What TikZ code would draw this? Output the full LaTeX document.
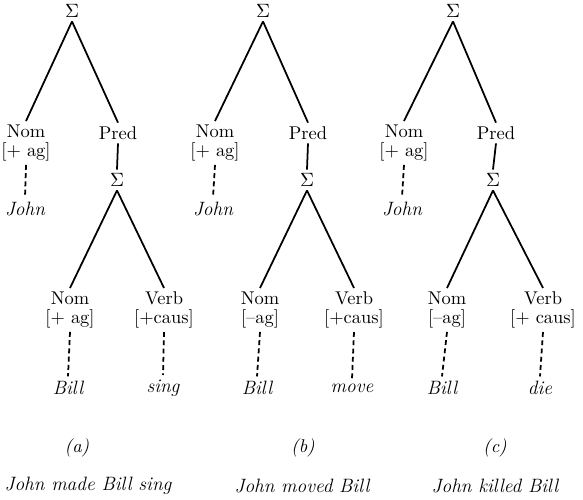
\documentclass[tikz,border=0pt]{standalone}
\usetikzlibrary{positioning}
\tikzset{
  br/.style   = {line width=1pt},
  dbr/.style  = {line width=1pt, dash pattern=on 2.8pt off 1.9pt},
  sig/.style  = {inner sep=2pt, font=\fontsize{10.5}{11}\selectfont},
  cat/.style  = {inner sep=2pt, align=center, font=\fontsize{10.5}{10.8}\selectfont},
  lex/.style  = {inner sep=2.5pt, font=\fontsize{11}{12}\selectfont\itshape},
  tag/.style  = {inner sep=1pt, font=\fontsize{10.5}{12}\selectfont\itshape},
  sent/.style = {inner sep=1pt, font=\fontsize{11}{13}\selectfont\itshape},
}
\begin{document}
\begin{tikzpicture}[x=0.02cm, y=-0.02cm]
  \useasboundingbox (0,0) rectangle (583,500);
  % (a)
  \node[sig] (aS) at (72,11) {$\Sigma$};
  \node[cat] (aNom) at (26,143) {Nom\\\relax[+ ag]};
  \node[cat] (aPred) at (118,133) {Pred};
  \node[lex] (aJohn) at (25,209) {John};
  \node[sig] (aS2) at (117,180) {$\Sigma$};
  \node[cat] (aNom2) at (70,310) {Nom\\\relax[+ ag]};
  \node[cat] (aVerb) at (164,310) {Verb\\\relax[+caus]};
  \node[lex] (aBill) at (68,388) {Bill};
  \node[lex] (aSing) at (163,388) {sing};
  \draw[br] (aS.south) -- (aNom.north);
  \draw[br] (aS.south) -- (aPred.north);
  \draw[br] (aPred.south) -- (aS2.north);
  \draw[br] (aS2.south) -- (aNom2.north);
  \draw[br] (aS2.south) -- (aVerb.north);
  \draw[dbr] (aNom.south) -- (aJohn.north);
  \draw[dbr] (aNom2.south) -- (aBill.north);
  \draw[dbr] (aVerb.south) -- (aSing.north);
  % (b)
  \node[sig] (bS) at (263,11) {$\Sigma$};
  \node[cat] (bNom) at (215,143) {Nom\\\relax[+ ag]};
  \node[cat] (bPred) at (308,133) {Pred};
  \node[lex] (bJohn) at (213,209) {John};
  \node[sig] (bS2) at (307,180) {$\Sigma$};
  \node[cat] (bNom2) at (260,310) {Nom\\\relax[--ag]};
  \node[cat] (bVerb) at (354,310) {Verb\\\relax[+caus]};
  \node[lex] (bBill) at (257,388) {Bill};
  \node[lex] (bMove) at (352,388) {move};
  \draw[br] (bS.south) -- (bNom.north);
  \draw[br] (bS.south) -- (bPred.north);
  \draw[br] (bPred.south) -- (bS2.north);
  \draw[br] (bS2.south) -- (bNom2.north);
  \draw[br] (bS2.south) -- (bVerb.north);
  \draw[dbr] (bNom.south) -- (bJohn.north);
  \draw[dbr] (bNom2.south) -- (bBill.north);
  \draw[dbr] (bVerb.south) -- (bMove.north);
  % (c)
  \node[sig] (cS) at (453,11) {$\Sigma$};
  \node[cat] (cNom) at (404,143) {Nom\\\relax[+ ag]};
  \node[cat] (cPred) at (496,133) {Pred};
  \node[lex] (cJohn) at (402,209) {John};
  \node[sig] (cS2) at (493,180) {$\Sigma$};
  \node[cat] (cNom2) at (447,310) {Nom\\\relax[--ag]};
  \node[cat] (cVerb) at (543,310) {Verb\\\relax[+ caus]};
  \node[lex] (cBill) at (442,388) {Bill};
  \node[lex] (cDie) at (540,388) {die};
  \draw[br] (cS.south) -- (cNom.north);
  \draw[br] (cS.south) -- (cPred.north);
  \draw[br] (cPred.south) -- (cS2.north);
  \draw[br] (cS2.south) -- (cNom2.north);
  \draw[br] (cS2.south) -- (cVerb.north);
  \draw[dbr] (cNom.south) -- (cJohn.north);
  \draw[dbr] (cNom2.south) -- (cBill.north);
  \draw[dbr] (cVerb.south) -- (cDie.north);
  % labels
  \node[tag] (aTag) at (77,448) {(a)};
  \node[tag] (bTag) at (303,448) {(b)};
  \node[tag] (cTag) at (495,448) {(c)};
  \node[sent] (aSent) at (88,486) {John made Bill sing};
  \node[sent] (bSent) at (302,486) {John moved Bill};
  \node[sent] (cSent) at (495,486) {John killed Bill};
\end{tikzpicture}
\end{document}
